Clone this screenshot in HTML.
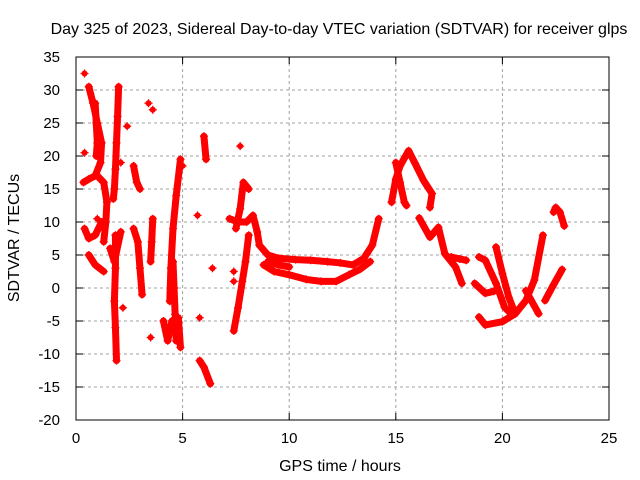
<!DOCTYPE html>
<html><head><meta charset="utf-8"><style>
html,body{margin:0;padding:0;background:#fff;}
svg{display:block;font-family:"Liberation Sans",sans-serif;}
</style></head><body>
<svg id="chart" width="640" height="480" viewBox="0 0 640 480">
<text x="339" y="34" text-anchor="middle" font-size="16">Day 325 of 2023, Sidereal Day-to-day VTEC variation (SDTVAR) for receiver glps</text>
<text x="340" y="471" text-anchor="middle" font-size="16">GPS time / hours</text>
<text transform="translate(19,238) rotate(-90)" text-anchor="middle" font-size="16">SDTVAR / TECUs</text>
<g id="grid"></g><g id="marks"></g><g id="axes"></g>
</svg>
<script>
const xTicks=[0,5,10,15,20,25];
const yTicks=[35,30,25,20,15,10,5,0,-5,-10,-15,-20];
// tracks of [hour, SDTVAR] samples
const trackA=[[0.6,30.5],[0.8,28],[1.0,25],[1.2,22],[1.15,19],[0.9,17],[0.6,16.5],[0.35,16]];
const trackB=[[0.9,28],[0.95,25],[1.0,22],[0.95,20]];
const trackC=[[2.0,30.5],[1.95,26],[1.9,22],[1.85,18],[1.8,15],[1.75,13.5]];
const trackD=[[1.0,17],[1.3,16],[1.45,13],[1.4,10],[1.3,7]];
const trackE=[[0.4,9],[0.6,7.5],[0.9,8],[1.2,10]];
const trackF=[[0.6,5],[0.9,3.5],[1.3,2.5]];
const trackG=[[1.85,8],[1.85,3],[1.8,-2],[1.85,-6],[1.9,-11]];
const trackH=[[1.6,6],[1.8,4],[2.1,8.5]];
const trackI=[[2.7,18.5],[2.85,16],[3.0,15]];
const trackJ=[[2.7,9],[2.9,7],[3.0,3],[3.1,-1]];
const trackK=[[3.6,10.5],[3.55,7],[3.5,4]];
const trackL=[[4.4,-2],[4.45,3],[4.55,9],[4.7,14],[4.9,19.5]];
const trackM=[[4.55,4],[4.6,0],[4.65,-4],[4.7,-8]];
const trackN=[[4.1,-5],[4.3,-8],[4.5,-5],[4.8,-4.5],[4.9,-9]];
const trackO=[[6.0,23],[6.1,19.5]];
const trackP=[[5.8,-11],[6.0,-12],[6.3,-14.5]];
const trackQ=[[7.4,-6.5],[7.6,-3],[7.8,1],[7.95,4],[8.1,8]];
const trackR=[[7.5,9],[7.7,12],[7.85,16],[8.1,15]];
const trackS=[[7.2,10.5],[7.6,10],[8.0,10],[8.3,11],[8.5,8.5],[8.6,6.5]];
const trackU=[[8.6,6.5],[9.0,5],[9.5,4.5],[10.3,4.3],[11.0,4.2],[11.8,4.0],[12.4,3.8],[13.0,3.5],[13.5,4.5],[13.9,6.5],[14.2,10.5]];
const trackLo=[[8.8,3.5],[9.3,2.5],[10.0,2.0],[10.8,1.3],[11.5,1.0],[12.2,1.0],[12.8,2.0],[13.3,2.8],[13.8,4.0]];
const trackMid=[[9.0,4],[9.5,3.5],[10.0,3.2]];
const trackPk=[[14.8,13],[15.0,16.5],[15.2,18.5],[15.6,20.8],[15.9,18.9],[16.3,16.3],[16.7,14.3],[16.6,12.2]];
const trackPk2=[[15.0,19],[15.2,16],[15.4,13],[15.5,12.5]];
const trackDn=[[16.1,10.6],[16.6,7.7],[17.0,9.2],[17.3,5.2],[17.8,3.2],[18.1,0.7]];
const trackDn2=[[17.6,4.7],[18.0,4.4],[18.3,4.2]];
const trackV=[[18.9,4.7],[19.2,4.2],[19.7,0.7],[20.1,-2.9],[20.4,-3.9]];
const trackW=[[19.7,6.2],[20.0,2.2],[20.3,-1.4],[20.6,-3.9]];
const trackX=[[18.7,0.7],[19.2,-0.8],[19.6,-0.5]];
const trackBot=[[18.9,-4.4],[19.2,-5.6],[20.0,-5.1],[20.6,-3.9],[21.1,-1.9],[21.5,1.2],[21.9,8.0]];
const trackY=[[21.1,-0.4],[21.7,-3.9]];
const trackZ=[[22.0,-1.9],[22.4,0.5],[22.8,2.8]];
const trackTR=[[22.4,11.5],[22.5,12.2],[22.7,11.5],[22.9,9.4]];
const tracks=[trackA,trackB,trackC,trackD,trackE,trackF,trackG,trackH,trackI,trackJ,trackK,trackL,trackM,trackN,trackO,trackP,trackQ,trackR,trackS,trackU,trackLo,trackMid,trackPk,trackPk2,trackDn,trackDn2,trackV,trackW,trackX,trackBot,trackY,trackZ,trackTR];
const singles=[[0.4,32.5],[0.4,20.5],[2.4,24.5],[2.1,19],[3.4,28],[3.6,27],[3.5,-7.5],[5.0,18.5],[5.8,-4.5],[5.7,11],[6.4,3],[7.4,2.5],[7.4,1],[7.7,21.5],[2.2,-3],[1.0,10.5]];
const X0=76,X1=609,Y0=57,Y1=420,xMin=0,xMax=25,yMin=-20,yMax=35;
const sx=h=>X0+(h-xMin)/(xMax-xMin)*(X1-X0);
const sy=v=>Y1-(v-yMin)/(yMax-yMin)*(Y1-Y0);
const NS='http://www.w3.org/2000/svg';
const grid=document.getElementById('grid'),marks=document.getElementById('marks'),axes=document.getElementById('axes');
function mk(t,a,p){const e=document.createElementNS(NS,t);for(const k in a)e.setAttribute(k,a[k]);p.appendChild(e);return e;}
xTicks.forEach(t=>{const x=sx(t);
 if(t>xMin&&t<xMax){const g=mk('line',{x1:x,x2:x,y1:Y0,y2:Y1,stroke:'#a0a0a0','stroke-dasharray':'3,3'},grid);
 
 }
 mk('line',{x1:x,x2:x,y1:Y1,y2:Y1-7,stroke:'#000'},axes);mk('line',{x1:x,x2:x,y1:Y0,y2:Y0+7,stroke:'#000'},axes);
 const l=mk('text',{x:x,y:443,'text-anchor':'middle','font-size':'15'},axes);l.textContent=t;
 
 });
yTicks.forEach(t=>{const y=sy(t);
 if(t>yMin&&t<yMax){const g=mk('line',{x1:X0,x2:X1,y1:y,y2:y,stroke:'#a0a0a0','stroke-dasharray':'3,3'},grid);
 
 }
 mk('line',{x1:X0,x2:X0+7,y1:y,y2:y,stroke:'#000'},axes);mk('line',{x1:X1,x2:X1-7,y1:y,y2:y,stroke:'#000'},axes);
 const l=mk('text',{x:60,y:y+5,'text-anchor':'end','font-size':'15'},axes);l.textContent=t;
 
 });
const fr=mk('rect',{x:X0,y:Y0,width:X1-X0,height:Y1-Y0,fill:'none',stroke:'#000'},axes);


function cross(h,v){const x=sx(h),y=sy(v);
 const p=mk('path',{d:`M${x-4},${y}h8M${x},${y-4}v8`,stroke:'#f00','stroke-width':'1.3'},marks);
 
 }
tracks.forEach(tr=>{
 const pl=mk('polyline',{points:tr.map(p=>sx(p[0])+','+sy(p[1])).join(' '),fill:'none',stroke:'#f00','stroke-width':'7','stroke-linejoin':'round','stroke-linecap':'round'},marks);
 
 
 tr.forEach(p=>cross(p[0],p[1]));});
singles.forEach(p=>{cross(p[0],p[1]);const x=sx(p[0]),y=sy(p[1]);
 const c=mk('circle',{cx:x,cy:y,r:3,fill:'#f00'},marks);
 
 });
</script>
</body></html>
